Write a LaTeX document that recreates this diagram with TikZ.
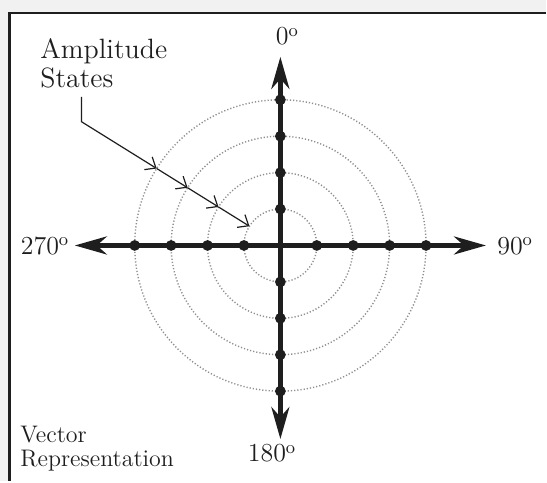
\documentclass[tikz,border=0pt]{standalone}
\usetikzlibrary{arrows.meta,calc}
\definecolor{bggray}{HTML}{F1F1F1}
\definecolor{ringgray}{HTML}{8E8E8E}
\definecolor{ink}{HTML}{1E1E1E}
\begin{document}
\begin{tikzpicture}[x=0.5pt,y=-0.5pt,
  ring/.style={draw=ringgray,line width=0.7pt,dash pattern=on 0.6pt off 1pt},
  axis/.style={draw=ink,line width=2.3pt,{Stealth[length=16pt,width=9pt,inset=5pt]}-{Stealth[length=16pt,width=9pt,inset=5pt]}},
  dot/.style={circle,fill=ink,inner sep=0pt,minimum size=5.4pt},
  callout/.style={draw=ink,line width=0.6pt,-{Straight Barb[length=4.5pt,width=7.5pt]}},
  lbl/.style={inner sep=0pt,text=ink,font=\fontsize{13}{13}\selectfont},
  note/.style={inner sep=0pt,text=ink,align=left}]
\fill[bggray] (0,0) rectangle (547,482);
\fill[white] (9.5,13) rectangle (547,482);
\draw[ink,line width=1.2pt] (9.5,482) -- (9.5,13) -- (547,13);
\useasboundingbox (0,0) rectangle (547,482);

\coordinate (c) at (281,246);
\foreach \r in {36.5,73,109.5,146} \draw[ring] (c) circle[radius=\r];

\coordinate (ttip) at (281,57);
\coordinate (btip) at (281,440);
\coordinate (ltip) at (75,246);
\coordinate (rtip) at (487,246);
\draw[axis] (ttip) -- (btip);
\draw[axis] (ltip) -- (rtip);

\foreach \k in {1,...,4}{
  \node[dot] (up\k) at (281,246-36.5*\k) {};
  \node[dot] (dn\k) at (281,246+36.5*\k) {};
  \node[dot] (lf\k) at (281-36.5*\k,246) {};
  \node[dot] (rt\k) at (281+36.5*\k,246) {};
}

\node[lbl,anchor=base west] (l0) at (276,45) {0$^{\mathrm{o}}$};
\node[lbl,anchor=base west] (l90) at (498,255) {90$^{\mathrm{o}}$};
\node[lbl,anchor=base west] (l270) at (20.5,255) {270$^{\mathrm{o}}$};
\node[lbl,anchor=base west] (l180) at (248,463) {180$^{\mathrm{o}}$};

\node[note,anchor=north west,font=\fontsize{14}{14.5}\selectfont] (amp) at (40,38.6) {Amplitude\\States};
\node[note,anchor=north west,font=\fontsize{12}{12}\selectfont] (vec) at (20,426.6) {Vector\\Representation};

\coordinate (cs) at (81.7,97);
\coordinate (cb) at (81.7,122);
\coordinate (a1) at ($(c)!73pt!(cb)$);
\coordinate (a2) at ($(c)!54.75pt!(cb)$);
\coordinate (a3) at ($(c)!36.5pt!(cb)$);
\coordinate (a4) at ($(c)!18.25pt!(cb)$);
\draw[callout] (cs) -- (cb) -- (a1);
\draw[callout] (a1) -- (a2);
\draw[callout] (a2) -- (a3);
\draw[callout] (a3) -- (a4);
\end{tikzpicture}
\end{document}
